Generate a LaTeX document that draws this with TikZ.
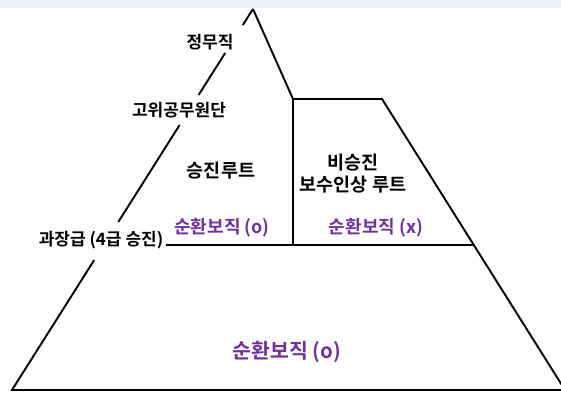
\documentclass[tikz,border=0pt]{standalone}
\usepackage{fontspec}
\setmainfont{Noto Sans CJK KR}[BoldFont={Noto Sans CJK KR Bold}]
\usetikzlibrary{calc}
\definecolor{ringpurple}{RGB}{112,48,160}
\definecolor{topstrip}{RGB}{238,241,248}
\begin{document}
\begin{tikzpicture}[x=1pt,y=-1pt,
  edge/.style={line width=1.9pt, black},
  lbl/.style={font=\bfseries\fontsize{17}{22}\selectfont, inner sep=0pt, align=center},
  inlbl/.style={lbl, font=\bfseries\fontsize{18.5}{22}\selectfont},
  plbl/.style={lbl, text=ringpurple, font=\bfseries\fontsize{18}{22}\selectfont},
  bigplbl/.style={plbl, font=\bfseries\fontsize{20.5}{24}\selectfont}]
\useasboundingbox (0,0) rectangle (561,392);
\fill[topstrip] (0,0) rectangle (561,7.5);
% outline points
\coordinate (A) at (253,9);
\coordinate (BL) at (12,390);
\coordinate (BR) at (565,390);
\coordinate (S) at (293,99);
\coordinate (T) at (382,99);
\coordinate (M) at (293,245);
\coordinate (H) at (166,245);
\coordinate (HR) at ($(T)!0.5017!(BR)$);
% gaps on the left edge
\coordinate (L1) at ($(A)!0.042!(BL)$);
\coordinate (L2) at ($(A)!0.1155!(BL)$);
\coordinate (L3) at ($(A)!0.2257!(BL)$);
\coordinate (L4) at ($(A)!0.3045!(BL)$);
\coordinate (L5) at ($(A)!0.559!(BL)$);
\coordinate (L6) at ($(A)!0.659!(BL)$);
% labels
\node[lbl] (r1) at (210,42) {정무직};
\node[lbl] (r2) at (179,110) {고위공무원단};
\node[lbl] (r3) at (101,240) {과장급 (4급 승진)};
\node[inlbl] (pr) at (221,171) {승진루트};
\node[inlbl] (np) at (353,174) {비승진\\보수인상 루트};
\node[plbl] (c1) at (222,228) {순환보직 (o)};
\node[plbl] (c2) at (376,228) {순환보직 (x)};
\node[bigplbl] (c3) at (287,352) {순환보직 (o)};
% edges
\draw[edge] (A) -- (L1);
\draw[edge] (L2) -- (L3);
\draw[edge] (L4) -- (L5);
\draw[edge] (L6) -- (BL) -- (BR);
\draw[edge] (A) -- (S) -- (T) -- (BR);
\draw[edge] (S) -- (M);
\draw[edge] (H) -- (HR);
\end{tikzpicture}
\end{document}
